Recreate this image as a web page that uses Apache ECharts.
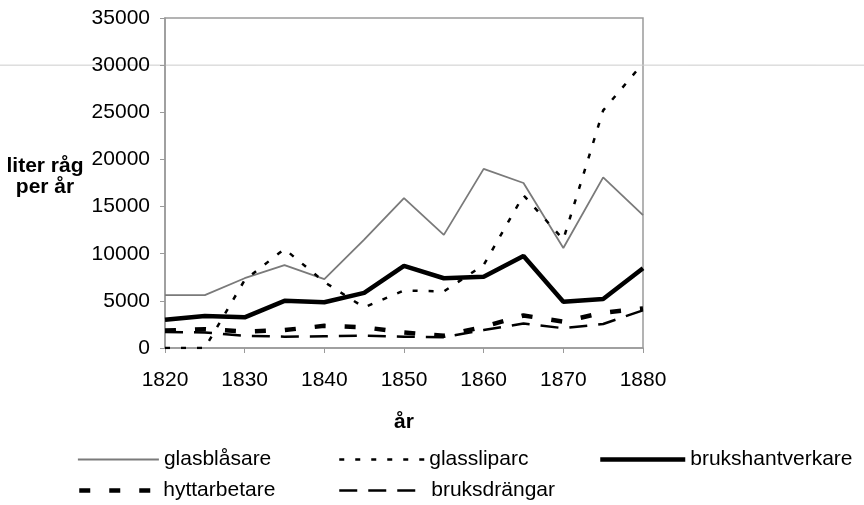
<!DOCTYPE html>
<html>
<head>
<meta charset="utf-8">
<script src="https://cdn.jsdelivr.net/npm/echarts@6/dist/echarts.min.js"></script>
<style>
  html, body { margin: 0; padding: 0; background: #fff; }
  #chart { width: 864px; height: 505px; }
</style>
</head>
<body>
<div id="chart"></div>
<script>
// år, var 5:e år
const years = [1820, 1825, 1830, 1835, 1840, 1845, 1850, 1855, 1860, 1865, 1870, 1875, 1880]

const glasblasare = [5600, 5600, 7400, 8800, 7300, 11500, 15900, 12000, 19000, 17500, 10600, 18100, 14100]
const glassliparc = [0, 0, 7200, 10500, 7000, 4300, 6100, 6000, 8800, 16200, 11500, 25200, 30200]
const brukshantverkare = [3000, 3400, 3250, 5000, 4850, 5850, 8700, 7400, 7550, 9750, 4900, 5200, 8450]
const hyttarbetare = [1850, 2000, 1750, 1900, 2350, 2200, 1650, 1300, 2250, 3450, 2800, 3750, 4200]
const bruksdrangar = [1700, 1650, 1300, 1200, 1250, 1300, 1200, 1150, 1900, 2600, 2100, 2550, 4000]

const font = "'Liberation Sans', Arial, sans-serif"

function pairs(vals) {
  return years.map((y, i) => [y, vals[i]])
}

const chart = echarts.init(document.getElementById('chart'))

// en legend per serie, så att linjeprovet kan ha egen längd
function leg(name, left, top, w, lw) {
  return {
    data: [name],
    left: left,
    top: top,
    itemWidth: w,
    itemHeight: 21,
    itemGap: 0,
    padding: 0,
    itemStyle: { opacity: 0 },
    lineStyle: { width: lw },
    textStyle: { fontFamily: font, fontSize: 21, color: '#000' },
    selectedMode: false
  }
}

const styles = {
  glas: { color: '#7a7a7a', width: 1.8 },
  slip: { color: '#000', width: 2.5, type: [5, 11] },
  bruk: { color: '#000', width: 4.5 },
  hytt: { color: '#000', width: 4.5, type: [11, 19] },
  drang: { color: '#000', width: 2.5, type: [18, 11] }
}

chart.setOption({
  animation: false,
  backgroundColor: '#fff',
  grid: {
    left: 165,
    right: 221,
    top: 18,
    bottom: 157,
    show: true,
    borderColor: '#9a9a9a',
    borderWidth: 1.5
  },
  legend: [
    leg('glasblåsare', 77, 449, 81, 1.8),
    leg('glassliparc', 338, 449, 85, 2.5),
    leg('brukshantverkare', 598, 449, 85, 4.5),
    leg('hyttarbetare', 77, 480, 79, 4.5),
    leg('bruksdrängar', 338, 480, 87, 2.5)
  ],
  xAxis: {
    type: 'value',
    min: 1820,
    max: 1880,
    interval: 10,
    name: 'år',
    nameLocation: 'middle',
    nameGap: 64,
    nameTextStyle: { fontFamily: font, fontSize: 21, fontWeight: 'bold', color: '#000' },
    splitLine: { show: false },
    axisLine: { lineStyle: { color: '#9a9a9a', width: 1.5 } },
    axisTick: { show: true, length: 5, lineStyle: { color: '#9a9a9a' } },
    axisLabel: { fontFamily: font, fontSize: 21, color: '#000', margin: 22, formatter: v => String(v) }
  },
  yAxis: {
    type: 'value',
    min: 0,
    max: 35000,
    interval: 5000,
    splitLine: { show: false },
    axisLine: { show: true, lineStyle: { color: '#9a9a9a', width: 1.5 } },
    axisTick: { show: true, length: 5, lineStyle: { color: '#9a9a9a' } },
    axisLabel: { fontFamily: font, fontSize: 21, color: '#000', margin: 15, formatter: v => String(v) }
  },
  graphic: [
    {
      type: 'text',
      x: 45,
      y: 177,
      style: {
        text: 'liter råg\nper år',
        fontFamily: font,
        fontSize: 21,
        fontWeight: 'bold',
        fill: '#000',
        align: 'center',
        verticalAlign: 'middle',
        lineHeight: 21
      }
    }
  ],
  series: [
    {
      name: 'glasblåsare',
      type: 'line',
      symbol: 'none',
      data: pairs(glasblasare),
      lineStyle: styles.glas,
      itemStyle: { color: styles.glas.color },
      z: 3
    },
    {
      name: 'glassliparc',
      type: 'line',
      symbol: 'none',
      data: pairs(glassliparc),
      lineStyle: styles.slip,
      itemStyle: { color: '#000' },
      z: 4
    },
    {
      name: 'brukshantverkare',
      type: 'line',
      symbol: 'none',
      data: pairs(brukshantverkare),
      lineStyle: styles.bruk,
      itemStyle: { color: '#000' },
      z: 5
    },
    {
      name: 'hyttarbetare',
      type: 'line',
      symbol: 'none',
      data: pairs(hyttarbetare),
      lineStyle: styles.hytt,
      itemStyle: { color: '#000' },
      z: 6
    },
    {
      name: 'bruksdrängar',
      type: 'line',
      symbol: 'none',
      data: pairs(bruksdrangar),
      lineStyle: styles.drang,
      itemStyle: { color: '#000' },
      z: 4
    }
  ]
})

// svag grå linje över hela bilden vid 30000 (finns i förlagan)
const yLine = chart.convertToPixel({ yAxisIndex: 0 }, 30000)
chart.setOption({
  graphic: [
    {},
    {
      type: 'line',
      shape: { x1: 0, y1: yLine, x2: 864, y2: yLine },
      style: { stroke: '#cccccc', lineWidth: 1 },
      z: 0
    }
  ]
})
</script>
</body>
</html>
